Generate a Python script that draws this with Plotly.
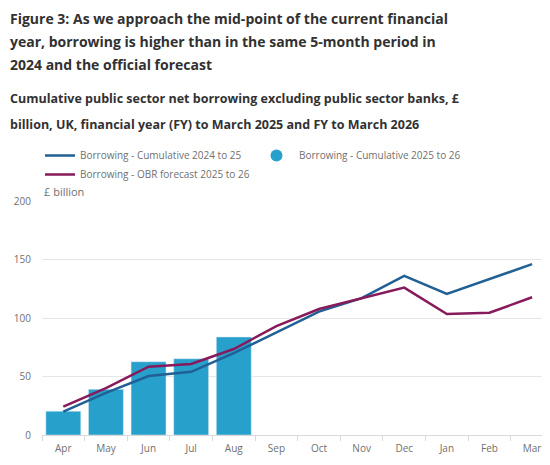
import plotly.graph_objects as go

# ---- data ----
months = ["Apr", "May", "Jun", "Jul", "Aug", "Sep", "Oct", "Nov", "Dec", "Jan", "Feb", "Mar"]
cum_2025_26 = [20.4, 39.0, 62.6, 65.2, 83.8]
cum_2024_25 = [20.0, 36.0, 50.4, 54.0, 70.0, 88.0, 105.4, 117.0, 136.0, 120.5, 133.0, 146.0]
obr_2025_26 = [24.2, 40.0, 58.4, 60.7, 73.5, 93.0, 107.7, 117.0, 126.0, 103.4, 104.5, 117.7]

TITLE = ["Figure 3: As we approach the mid-point of the current financial",
         "year, borrowing is higher than in the same 5-month period in",
         "2024 and the official forecast"]
SUBTITLE = ["Cumulative public sector net borrowing excluding public sector banks, £",
            "billion, UK, financial year (FY) to March 2025 and FY to March 2026"]

# page has an 8px body margin, so the figure is drawn 8px smaller and
# everything below is in figure pixels (reference pixels minus 8)
W, H = 542, 457
M_L, M_R, M_T, M_B = 34, 0, 193, 30
PLOT_W = W - M_L - M_R
PLOT_H = H - M_T - M_B

FONT = "Open Sans"
GREY = "#707070"
DARK = "#323132"


def px_x(x):
    return (x - M_L) / PLOT_W


def px_y(y):
    return (H - M_B - y) / PLOT_H


fig = go.Figure()

fig.add_trace(go.Bar(x=months[:len(cum_2025_26)], y=cum_2025_26, marker_color="#27a0cc",
                     showlegend=False, name="Borrowing - Cumulative 2025 to 26"))
fig.add_trace(go.Scatter(x=months, y=cum_2024_25, mode="lines", name="Borrowing - Cumulative 2024 to 25",
                         line=dict(color="#206095", width=2.5)))
fig.add_trace(go.Scatter(x=months, y=obr_2025_26, mode="lines", name="Borrowing - OBR forecast 2025 to 26",
                         line=dict(color="#871a5b", width=2.5)))
# legend-only entry so the bars show as a dot, like the original
fig.add_trace(go.Scatter(x=[None], y=[None], mode="markers", name="Borrowing - Cumulative 2025 to 26",
                         marker=dict(color="#27a0cc", size=12), legend="legend2"))

annotations = []
for i, line in enumerate(TITLE):
    annotations.append(dict(text=f"<b>{line}</b>", x=px_x(0), y=px_y(10.5 + i * 23), xref="paper", yref="paper",
                            xanchor="left", yanchor="middle", showarrow=False,
                            font=dict(family=FONT, size=14, color=DARK)))
for i, line in enumerate(SUBTITLE):
    annotations.append(dict(text=f"<b>{line}</b>", x=px_x(0), y=px_y(90 + i * 26), xref="paper", yref="paper",
                            xanchor="left", yanchor="middle", showarrow=False,
                            font=dict(family=FONT, size=12.5, color=DARK)))
annotations.append(dict(text="£ billion", x=0, y=200, xref="paper", yref="y", xanchor="left", yanchor="bottom",
                        showarrow=False, font=dict(family=FONT, size=11, color=GREY)))

legend_font = dict(family=FONT, size=10, color=GREY)

fig.update_layout(
    width=W, height=H,
    margin=dict(l=M_L, r=M_R, t=M_T, b=M_B),
    paper_bgcolor="white", plot_bgcolor="white",
    font=dict(family=FONT, size=11, color=GREY),
    bargap=0.18,
    showlegend=True,
    legend=dict(orientation="v", x=px_x(32), y=px_y(133), xanchor="left", yanchor="top",
                traceorder="normal", font=legend_font, tracegroupgap=0, bgcolor="rgba(0,0,0,0)"),
    legend2=dict(orientation="v", x=px_x(246), y=px_y(133), xanchor="left", yanchor="top",
                 itemwidth=35, font=legend_font, bgcolor="rgba(0,0,0,0)"),
    annotations=annotations,
    xaxis=dict(showgrid=False, ticks="outside", tickson="boundaries", ticklen=5, tickcolor="#d9d9d9",
               range=[-0.5, 11.42], showline=True, linecolor="#d9d9d9", ticklabelstandoff=4,
               tickfont=dict(size=10, color=GREY), fixedrange=True),
    yaxis=dict(range=[0, 200], tickvals=[0, 50, 100, 150, 200], gridcolor="#e6e6e6", zeroline=False,
               ticklabelstandoff=10, tickfont=dict(size=10, color=GREY), fixedrange=True),
)

fig.write_html("out.html")
